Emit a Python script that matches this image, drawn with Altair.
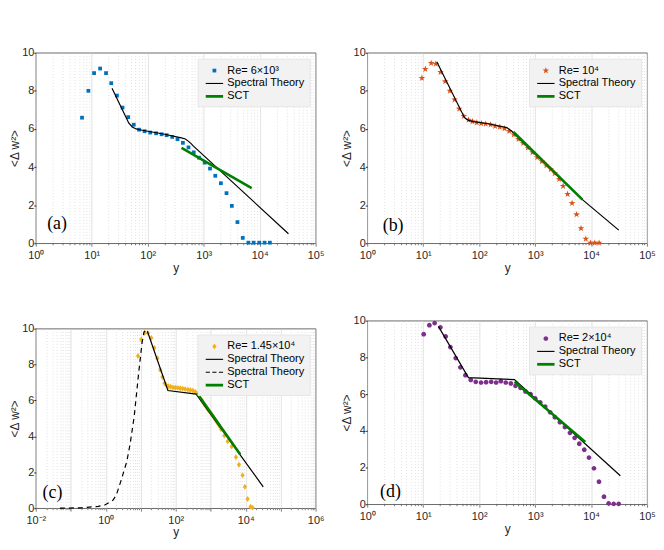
import altair as alt
import pandas as pd

# ---------------- data ----------------
# panel (a)  Re = 6x10^3
a_pts_y = [6.7, 8.7, 11, 14.1, 18, 22.3, 28.2, 35.5, 44.8, 56.3, 70, 88, 111, 141, 177, 218,
           274, 341, 425, 535, 664, 826, 1042, 1297, 1611, 2030, 2557, 3183, 4010, 4990,
           6280, 7810, 9840, 12240, 15240]
a_pts_v = [6.59, 8.0, 8.93, 9.17, 8.93, 8.4, 7.75, 7.12, 6.62, 6.22, 5.96, 5.88, 5.81, 5.77,
           5.72, 5.67, 5.58, 5.46, 5.27, 5.03, 4.77, 4.49, 4.23, 3.92, 3.54, 3.15, 2.63, 1.96,
           1.11, 0.28, 0.03, 0.03, 0.03, 0.03, 0.03]
a_th_y = [23, 46, 53, 62, 80, 200, 400, 470, 530, 590, 650, 32700]
a_th_v = [8.13, 6.3, 6.1, 6.0, 5.93, 5.72, 5.53, 5.47, 5.36, 5.24, 5.11, 0.5]
a_sct_y = [402, 7210]
a_sct_v = [5.01, 2.89]

# panel (b)  Re = 10^4
b_pts_y = [9.5, 10.9, 13.9, 16.8, 20.4, 24.7, 29.9, 36.3, 44, 53.2, 64.6, 76, 90.8, 109, 131,
           160, 193, 234, 284, 344, 416, 504, 611, 740, 896, 1086, 1318, 1585, 1905, 2239,
           2692, 3162, 3802, 4571, 5495, 6607, 8035, 9772, 11610, 13900]
b_pts_v = [8.67, 9.14, 9.45, 9.41, 8.98, 8.49, 8.0, 7.54, 7.05, 6.67, 6.47, 6.39, 6.33, 6.29,
           6.26, 6.22, 6.15, 6.10, 6.02, 5.88, 5.70, 5.46, 5.25, 5.01, 4.77, 4.51, 4.3, 4.08,
           3.88, 3.67, 3.36, 3.0, 2.58, 2.10, 1.51, 0.78, 0.23, 0.02, 0.02, 0.02]
b_th_y = [17.5, 54.7, 64.6, 80, 147, 312, 383, 420, 7000, 31200]
b_th_v = [9.53, 6.59, 6.45, 6.38, 6.27, 6.07, 5.88, 5.76, 2.29, 0.69]
b_sct_y = [410, 7000]
b_sct_v = [5.84, 2.29]

# panel (c)  Re = 1.45x10^4
c_pts_y = [8.36, 10.4, 13.0, 16.1, 20.1, 24.5, 29.8, 36.1, 41.7, 48.2, 53.7, 61.7, 70.8,
           83.2, 97.7, 114.8, 134.9, 158.5, 186.2, 223.9, 263.0, 309.0, 363.1, 426.6, 477,
           562, 663, 759, 862, 1000, 1143, 1318, 1520, 1738, 1976, 2455, 3055, 3970, 5270,
           6430, 8170, 9530, 11350, 13800, 15850]
c_pts_v = [8.48, 9.39, 9.76, 9.76, 9.48, 8.93, 8.35, 7.7, 7.3, 6.95, 6.85, 6.79, 6.76, 6.73,
           6.71, 6.70, 6.68, 6.66, 6.63, 6.60, 6.58, 6.55, 6.48, 6.36, 6.24, 6.0, 5.78, 5.6,
           5.45, 5.3, 5.14, 4.95, 4.77, 4.6, 4.40, 4.04, 3.72, 3.43, 2.84, 2.42, 1.83, 1.19,
           0.51, 0.08, 0.03]
c_th_y = [15.5, 59.8, 384, 31800]
c_th_v = [9.85, 6.55, 6.35, 1.19]
c_dash_y = [0.049, 0.2, 0.61, 0.94, 1.62, 2.02, 2.8, 4.0, 5.0, 6.5, 8.7, 10.9, 12.4, 14.0, 15.5]
c_dash_v = [0.0, 0.02, 0.1, 0.18, 0.45, 0.75, 1.6, 2.6, 3.6, 5.1, 7.5, 9.2, 9.81, 9.9, 9.85]
c_sct_y = [409, 7020]
c_sct_v = [6.40, 2.99]

# panel (d)  Re = 2x10^4
d_pts_y = [10.2, 12.9, 16.0, 20.3, 25.2, 30.6, 38.1, 46.2, 56.8, 70.8, 86.9, 108, 133, 164,
           201, 244, 299, 368, 446, 548, 673, 828, 1003, 1233, 1514, 1860, 2256, 2774, 3405,
           4185, 5075, 6150, 7550, 9160, 11250, 13830, 17000, 20600, 25300, 31100]
d_pts_v = [9.26, 9.75, 9.87, 9.64, 9.14, 8.56, 7.96, 7.46, 7.03, 6.77, 6.67, 6.63, 6.65, 6.67,
           6.63, 6.70, 6.63, 6.58, 6.45, 6.34, 6.14, 6.0, 5.77, 5.55, 5.32, 5.01, 4.74, 4.47,
           4.2, 3.89, 3.62, 3.3, 2.97, 2.54, 1.96, 1.23, 0.41, 0.05, 0.02, 0.02]
d_th_y = [18.7, 64.3, 428, 33300]
d_th_v = [9.69, 6.9, 6.79, 1.55]
d_sct_y = [428, 7870]
d_sct_v = [6.67, 3.39]

labels_re = ["Re= 6×10³", "Re= 10⁴", "Re= 1.45×10⁴", "Re= 2×10⁴"]
y_ticks = [0, 2, 4, 6, 8, 10]

# ---------------- style ----------------
BLUE, RED, YEL, PUR = "#0072BD", "#D95319", "#EDB120", "#7E2F8E"
GREEN = "#008000"
FONT = "Liberation Sans"
TXT = "#262626"

SQUARE = "M-0.27,-0.27H0.27V0.27H-0.27Z"
STAR = ("M0,-0.5L0.118,-0.162L0.476,-0.155L0.19,0.062L0.294,0.405L0,0.2L-0.294,0.405"
        "L-0.19,0.062L-0.476,-0.155L-0.118,-0.162Z")
DIAMOND = "M0,-0.42L0.3,0L0,0.42L-0.3,0Z"
CIRCLE = "M-0.34,0A0.34,0.34,0,1,0,0.34,0A0.34,0.34,0,1,0,-0.34,0Z"
LINE = "M-1.25,-0.08H1.25V0.08H-1.25Z"
THICK = "M-1.25,-0.2H1.25V0.2H-1.25Z"
DASH = ("M-1.25,-0.08H-0.65V0.08H-1.25Z M-0.3,-0.08H0.3V0.08H-0.3Z "
        "M0.65,-0.08H1.25V0.08H0.65Z")

EXP = "round(log(datum.value)/LN10)"
ISDEC = f"abs(log(datum.value)/LN10 - {EXP}) < 0.001"
SUP = "['⁰','¹','²','³','⁴','⁵','⁶','⁷','⁸','⁹']"


def xaxis(lo, hi, step):
    vals = [m * 10.0 ** e for e in range(lo, hi) for m in range(1, 10)] + [10.0 ** hi]
    cond = ISDEC if step == 1 else f"{ISDEC} && {EXP} % 2 == 0"
    lab = f"{cond} ? '10' + ({EXP} < 0 ? '⁻' : '') + {SUP}[abs({EXP})] : ''"
    return alt.Axis(values=vals, labelExpr=lab, title="y", labelFlush=False,
                    labelOverlap=False, grid=True, gridColor="#d4d4d4", gridWidth=0.7,
                    gridDash={"condition": {"test": ISDEC, "value": [1, 0]}, "value": [1, 2]},
                    tickSize={"condition": {"test": ISDEC, "value": 3}, "value": 1.5},
                    tickColor=TXT, tickWidth=0.6, labelPadding=3, titlePadding=2)


def panel(pts_y, pts_v, th_y, th_v, sct_y, sct_v, label, color, shape, tag, tagx, tagv,
          xlo=0, xhi=5, step=1, h=192, dash=None):
    dom = [label, "Spectral Theory", "SCT"]
    cols = [color, "black", GREEN]
    shapes = [shape, LINE, THICK]
    if dash is not None:
        dom = [label, "Spectral Theory", "Spectral Theory ", "SCT"]
        cols = [color, "black", "black", GREEN]
        shapes = [shape, LINE, DASH, THICK]
    X = lambda: alt.X("y:Q", scale=alt.Scale(type="log", domain=[10.0 ** xlo, 10.0 ** xhi],
                                             nice=False), axis=xaxis(xlo, xhi, step))
    Y = lambda: alt.Y("v:Q", scale=alt.Scale(domain=[0, 10], nice=False),
                      axis=alt.Axis(values=y_ticks, title="<Δ w²>", grid=False, tickSize=2,
                                    tickColor=TXT, labelPadding=0, titlePadding=0))
    leg = alt.Legend(title=None)
    pts = alt.Chart(pd.DataFrame({"y": pts_y, "v": pts_v, "s": label})).mark_point(
        filled=True, opacity=1, size=196, strokeWidth=0).encode(
        x=X(), y=Y(),
        color=alt.Color("s:N", scale=alt.Scale(domain=dom, range=cols), legend=leg),
        shape=alt.Shape("s:N", scale=alt.Scale(domain=dom, range=shapes), legend=leg))
    layers = [pts]
    if dash is not None:
        layers.append(alt.Chart(pd.DataFrame({"y": dash[0], "v": dash[1]})).mark_line(
            color="black", strokeWidth=1.2, strokeDash=[5, 4]).encode(x=X(), y=Y()))
    layers.append(alt.Chart(pd.DataFrame({"y": th_y, "v": th_v})).mark_line(
        color="black", strokeWidth=1.2).encode(x=X(), y=Y()))
    layers.append(alt.Chart(pd.DataFrame({"y": sct_y, "v": sct_v})).mark_line(
        color=GREEN, strokeWidth=2.6).encode(x=X(), y=Y()))
    layers.append(alt.Chart(pd.DataFrame({"y": [tagx], "v": [tagv], "t": [tag]})).mark_text(
        font="Liberation Serif", fontSize=18, color="black").encode(x=X(), y=Y(), text="t:N"))
    return alt.layer(*layers).properties(width=282, height=h)


pa = panel(a_pts_y, a_pts_v, a_th_y, a_th_v, a_sct_y, a_sct_v, labels_re[0], BLUE, SQUARE,
           "(a)", 2.4, 1.0)
pb = panel(b_pts_y, b_pts_v, b_th_y, b_th_v, b_sct_y, b_sct_v, labels_re[1], RED, STAR,
           "(b)", 2.9, 0.9)
pc = panel(c_pts_y, c_pts_v, c_th_y, c_th_v, c_sct_y, c_sct_v, labels_re[2], YEL, DIAMOND,
           "(c)", 0.03, 0.85, xlo=-2, xhi=6, step=2, h=181, dash=(c_dash_y, c_dash_v))
pd_ = panel(d_pts_y, d_pts_v, d_th_y, d_th_v, d_sct_y, d_sct_v, labels_re[3], PUR, CIRCLE,
            "(d)", 2.6, 0.65, h=185)

IND = dict(color="independent", shape="independent", x="independent", y="independent")
left = alt.vconcat(pa, pc, spacing=48).resolve_scale(**IND).resolve_legend(
    color="independent", shape="independent")
right = alt.vconcat(pb, pd_, spacing=40).resolve_scale(**IND).resolve_legend(
    color="independent", shape="independent")
chart = alt.hconcat(left, right, spacing=15).resolve_scale(**IND).resolve_legend(
    color="independent", shape="independent").properties(
    padding={"top": 36, "left": 0, "right": 0, "bottom": 0}
).configure_view(stroke="#444444", strokeWidth=0.8).configure_axis(
    labelFont=FONT, labelFontSize=11, labelColor=TXT, titleFont=FONT, titleFontSize=12,
    titleFontWeight="normal", titleColor=TXT, domain=False
).configure_legend(
    orient="top-right", offset=6, fillColor="#f2f2f2", strokeColor="#e6e6e6", padding=5,
    labelFont=FONT, labelFontSize=11, labelColor="black", symbolSize=196,
    symbolStrokeWidth=0, labelOffset=6, rowPadding=1, symbolOffset=5
)

chart.save("out.html", embed_options={"renderer": "svg", "actions": False})
